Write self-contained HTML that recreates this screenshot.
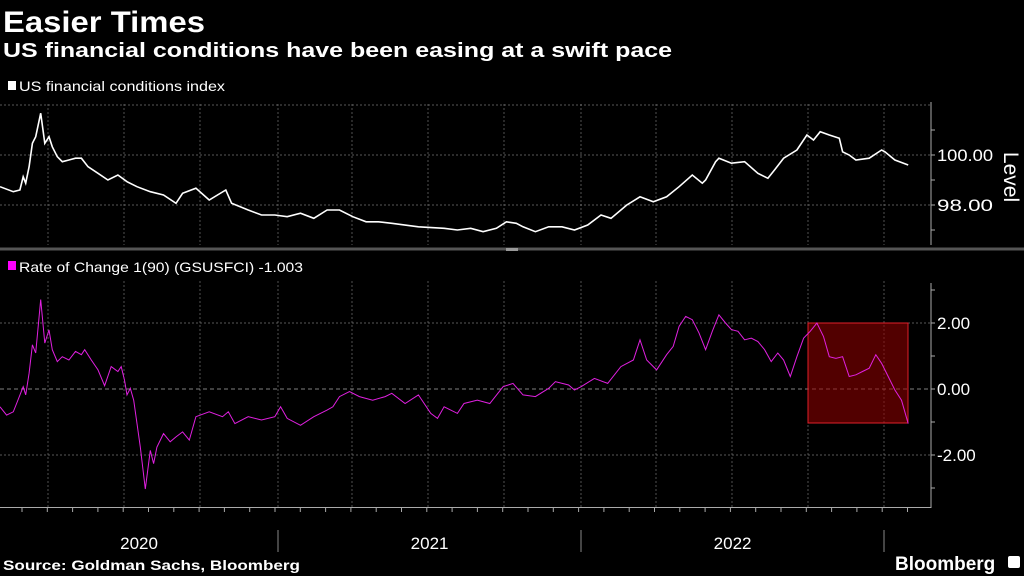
<!DOCTYPE html>
<html><head><meta charset="utf-8">
<style>
body{margin:0;background:#000;width:1024px;height:576px;overflow:hidden;font-family:"Liberation Sans",sans-serif;color:#fff}
svg{position:absolute;left:0;top:0}
</style></head>
<body>
<svg width="1024" height="576">
<text x="3" y="32" font-size="30" font-weight="bold" fill="#fff" textLength="202" lengthAdjust="spacingAndGlyphs">Easier Times</text>
<text x="3" y="57" font-size="20" font-weight="bold" fill="#fff" textLength="669" lengthAdjust="spacingAndGlyphs">US financial conditions have been easing at a swift pace</text>
<rect x="8" y="81" width="8" height="9" fill="#fff"/>
<text x="19" y="91" font-size="14" fill="#fff" textLength="206" lengthAdjust="spacingAndGlyphs">US financial conditions index</text>
<rect x="8" y="261" width="8" height="9" fill="#ff00ff"/>
<text x="19" y="272" font-size="14" fill="#fff" textLength="284" lengthAdjust="spacingAndGlyphs">Rate of Change 1(90) (GSUSFCI) -1.003</text>
<g id="grid"></g>
<line x1="0" y1="249" x2="1024" y2="249" stroke="#555" stroke-width="3"/>
<rect x="506" y="248" width="12" height="3" fill="#999"/>
<rect x="808" y="323" width="100" height="100" fill="rgba(150,0,0,0.55)" stroke="#e0202a" stroke-width="1"/>
<g id="axes"></g>
<path id="topLine" fill="none" stroke="#fff" stroke-width="1.6"/>
<path id="botLine" fill="none" stroke="#e020e0" stroke-width="1"/>
<text transform="translate(1004,177) rotate(90)" font-size="21" fill="#fff" text-anchor="middle">Level</text>
<text x="3" y="570" font-size="14" font-weight="bold" fill="#fff" textLength="297" lengthAdjust="spacingAndGlyphs">Source: Goldman Sachs, Bloomberg</text>
<text x="895" y="570" font-size="19" font-weight="bold" fill="#fff">Bloomberg</text>
<rect x="1008" y="556" width="12" height="12" rx="2" fill="#fff"/>
</svg>
<script>
const topDays=[0,16,24,28,31,35,39,43,49,54,59,63,69,75,83,91,98,106,118,130,142,153,165,181,197,212,220,236,252,272,279,299,315,331,346,362,378,394,409,425,441,456,472,504,535,551,567,582,598,610,622,630,645,661,677,692,708,724,736,755,771,787,803,818,834,846,850,862,866,881,897,913,925,933,944,960,972,980,988,999,1011,1015,1023,1031,1047,1062,1066,1078,1094];
const topValues=[98.73,98.53,98.6,99.13,98.87,99.53,100.47,100.73,101.67,100.47,100.73,100.33,99.93,99.73,99.8,99.87,99.87,99.53,99.27,99.0,99.2,98.93,98.73,98.53,98.4,98.07,98.47,98.67,98.2,98.6,98.07,97.8,97.6,97.6,97.53,97.67,97.47,97.8,97.8,97.53,97.33,97.33,97.27,97.13,97.07,97.0,97.07,96.93,97.07,97.33,97.27,97.13,96.93,97.13,97.13,97.0,97.2,97.6,97.47,98.0,98.33,98.13,98.33,98.73,99.2,98.87,99.0,99.73,99.87,99.67,99.73,99.27,99.07,99.4,99.87,100.2,100.8,100.6,100.93,100.8,100.67,100.13,100.0,99.8,99.87,100.2,100.13,99.8,99.6];
const botDays=[0,8,16,20,28,31,35,39,43,49,54,59,63,69,75,83,91,98,102,110,118,126,134,142,146,150,153,157,161,165,169,175,181,185,189,197,205,212,220,228,236,252,268,275,283,299,315,331,338,346,362,378,394,401,409,421,433,449,464,472,488,504,519,527,535,551,559,575,590,606,618,630,645,661,669,685,692,700,716,732,748,763,771,779,791,803,811,818,826,834,842,850,858,866,874,881,889,897,905,913,921,929,937,944,952,960,968,976,984,992,999,1007,1015,1023,1031,1039,1047,1055,1062,1070,1078,1086,1094];
const botValues=[-0.54,-0.79,-0.69,-0.44,0.07,-0.18,0.48,1.34,1.09,2.71,1.39,1.79,1.19,0.83,0.98,0.88,1.14,1.04,1.19,0.88,0.58,0.10,0.68,0.53,0.68,0.27,-0.18,0.02,-0.34,-1.05,-1.76,-3.03,-1.86,-2.26,-1.76,-1.35,-1.60,-1.45,-1.30,-1.55,-0.84,-0.69,-0.84,-0.69,-1.05,-0.84,-0.94,-0.84,-0.54,-0.89,-1.10,-0.84,-0.64,-0.54,-0.23,-0.08,-0.23,-0.34,-0.23,-0.13,-0.44,-0.18,-0.74,-0.89,-0.54,-0.74,-0.44,-0.34,-0.44,0.07,0.17,-0.18,-0.23,0.02,0.22,0.12,-0.03,0.07,0.32,0.17,0.68,0.88,1.49,0.88,0.58,1.04,1.29,1.90,2.20,2.10,1.70,1.19,1.75,2.25,2.00,1.80,1.75,1.49,1.54,1.44,1.19,0.83,1.09,0.88,0.38,0.98,1.54,1.75,2.00,1.59,0.98,0.93,0.98,0.38,0.43,0.53,0.63,1.04,0.78,0.38,-0.03,-0.34,-1.05];
const topTicks=[100,98];
const botTicks=[2,0,-2];
const years=["2020","2021","2022"];
const yearStartDays=[-30,335,700,1065];

const xS=d=>d*303/365;
const yTop=v=>155-(v-100)*25;
const yBot=v=>389-v*33;
const NS="http://www.w3.org/2000/svg";
function mk(tag,attrs,parent){const e=document.createElementNS(NS,tag);for(const k in attrs)e.setAttribute(k,attrs[k]);parent.appendChild(e);return e;}
const grid=document.getElementById('grid'),axes=document.getElementById('axes');
const vx=[48,124,200,278,352,428,504,581,656,732,808,884];
vx.forEach(x=>{
 let l=mk('line',{x1:x,y1:104,x2:x,y2:245,stroke:'#666','stroke-dasharray':'2,2','stroke-width':0.8},grid);
 
 l=mk('line',{x1:x,y1:281,x2:x,y2:507,stroke:'#666','stroke-dasharray':'2,2','stroke-width':0.8},grid);
 
});
[102,100,98].forEach(v=>{const l=mk('line',{x1:0,y1:yTop(v),x2:931,y2:yTop(v),stroke:'#777','stroke-dasharray':'2,2','stroke-width':0.8},grid);
 });
botTicks.forEach(v=>{const l=mk('line',{x1:0,y1:yBot(v),x2:931,y2:yBot(v),stroke:v===0?'#aaa':'#777','stroke-dasharray':v===0?'4,3':'2,2','stroke-width':0.8},grid);
 });
let a=mk('line',{x1:931,y1:102,x2:931,y2:245,stroke:'#aaa'},axes);
a=mk('line',{x1:931,y1:283,x2:931,y2:508,stroke:'#aaa'},axes);
a=mk('line',{x1:0,y1:507.5,x2:931,y2:507.5,stroke:'#aaa'},axes);
[101,100,99,98,97].forEach(v=>{const t=mk('line',{x1:931,y1:yTop(v),x2:935,y2:yTop(v),stroke:'#aaa'},axes);});
[3,2,1,0,-1,-2,-3].forEach(v=>{const t=mk('line',{x1:931,y1:yBot(v),x2:935,y2:yBot(v),stroke:'#aaa'},axes);});
topTicks.forEach(v=>{const t=mk('text',{x:937,y:yTop(v)+6,'font-size':17,fill:'#fff',textLength:56,lengthAdjust:'spacingAndGlyphs'},axes);t.textContent=v.toFixed(2);});
botTicks.forEach(v=>{const s=v.toFixed(2);const t=mk('text',{x:937,y:yBot(v)+6,'font-size':17,fill:'#fff'},axes);t.textContent=s;});
for(let x=22;x<931;x+=25.3){const t=mk('line',{x1:x,y1:508,x2:x,y2:512,stroke:'#aaa'},axes);}
[278,581,884].forEach(x=>{const t=mk('line',{x1:x,y1:530,x2:x,y2:552,stroke:'#888'},axes);});
years.forEach((y,i)=>{const x0=Math.max(0,xS(yearStartDays[i])),x1=xS(yearStartDays[i+1]);
 const t=mk('text',{x:(x0+x1)/2,y:549,'font-size':17,fill:'#fff','text-anchor':'middle'},axes);t.textContent=y;
 });
document.getElementById('topLine').setAttribute('d',topDays.map((d,i)=>(i?'L':'M')+xS(d).toFixed(1)+','+yTop(topValues[i]).toFixed(1)).join(''));
document.getElementById('botLine').setAttribute('d',botDays.map((d,i)=>(i?'L':'M')+xS(d).toFixed(1)+','+yBot(botValues[i]).toFixed(1)).join(''));
</script>
</body></html>
